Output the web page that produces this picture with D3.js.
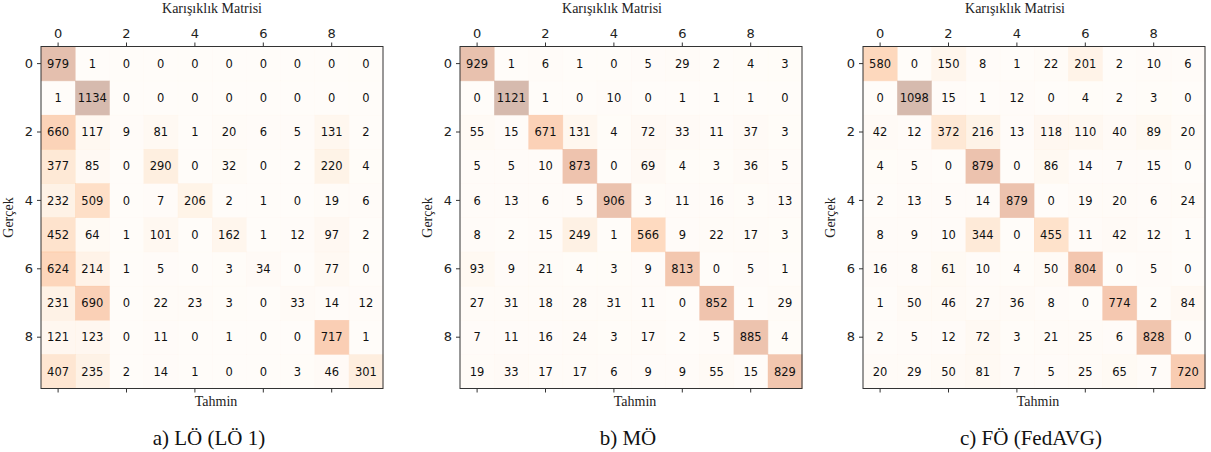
<!DOCTYPE html>
<html>
<head>
<meta charset="utf-8">
<script src="https://cdn.jsdelivr.net/npm/d3@7"></script>
<style>
  body { margin: 0; background: #fff; }
  svg { display: block; }
</style>
</head>
<body>
<svg id="chart" width="1211" height="452"></svg>
<script>
// sınıflar ve eksen etiketleri
const classes = [0, 1, 2, 3, 4, 5, 6, 7, 8, 9]
const tickLabels = [0, 2, 4, 6, 8]

// a) LÖ (LÖ 1)
const matrixLO = [
  [979, 1, 0, 0, 0, 0, 0, 0, 0, 0],
  [1, 1134, 0, 0, 0, 0, 0, 0, 0, 0],
  [660, 117, 9, 81, 1, 20, 6, 5, 131, 2],
  [377, 85, 0, 290, 0, 32, 0, 2, 220, 4],
  [232, 509, 0, 7, 206, 2, 1, 0, 19, 6],
  [452, 64, 1, 101, 0, 162, 1, 12, 97, 2],
  [624, 214, 1, 5, 0, 3, 34, 0, 77, 0],
  [231, 690, 0, 22, 23, 3, 0, 33, 14, 12],
  [121, 123, 0, 11, 0, 1, 0, 0, 717, 1],
  [407, 235, 2, 14, 1, 0, 0, 3, 46, 301],
]

// b) MÖ
const matrixMO = [
  [929, 1, 6, 1, 0, 5, 29, 2, 4, 3],
  [0, 1121, 1, 0, 10, 0, 1, 1, 1, 0],
  [55, 15, 671, 131, 4, 72, 33, 11, 37, 3],
  [5, 5, 10, 873, 0, 69, 4, 3, 36, 5],
  [6, 13, 6, 5, 906, 3, 11, 16, 3, 13],
  [8, 2, 15, 249, 1, 566, 9, 22, 17, 3],
  [93, 9, 21, 4, 3, 9, 813, 0, 5, 1],
  [27, 31, 18, 28, 31, 11, 0, 852, 1, 29],
  [7, 11, 16, 24, 3, 17, 2, 5, 885, 4],
  [19, 33, 17, 17, 6, 9, 9, 55, 15, 829],
]

// c) FÖ (FedAVG)
const matrixFO = [
  [580, 0, 150, 8, 1, 22, 201, 2, 10, 6],
  [0, 1098, 15, 1, 12, 0, 4, 2, 3, 0],
  [42, 12, 372, 216, 13, 118, 110, 40, 89, 20],
  [4, 5, 0, 879, 0, 86, 14, 7, 15, 0],
  [2, 13, 5, 14, 879, 0, 19, 20, 6, 24],
  [8, 9, 10, 344, 0, 455, 11, 42, 12, 1],
  [16, 8, 61, 10, 4, 50, 804, 0, 5, 0],
  [1, 50, 46, 27, 36, 8, 0, 774, 2, 84],
  [2, 5, 12, 72, 3, 21, 25, 6, 828, 0],
  [20, 29, 50, 81, 7, 5, 25, 65, 7, 720],
]

const captions = ['a) LÖ (LÖ 1)', 'b) MÖ', 'c) FÖ (FedAVG)']
const matrices = [matrixLO, matrixMO, matrixFO]

// yerleşim
const panels = [
  { left: 41, titleX: 212 },
  { left: 460, titleX: 612 },
  { left: 863, titleX: 1015 },
]
const size = 342
const topY = 46.5
const serif = '"Liberation Serif", "Times New Roman", serif'
const sans = '"DejaVu Sans", sans-serif'

const svg = d3.select('#chart')

panels.forEach((p, k) => {
  const data = matrices[k]
  const max = d3.max(data.flat())
  const x = d3.scaleBand().domain(classes).range([0, size])
  const y = d3.scaleBand().domain(classes).range([0, size])
  const color = d3.scaleSequential(d3.interpolateOranges).domain([0, max])

  const g = svg.append('g').attr('transform', `translate(${p.left},${topY})`)

  // hücreler
  const cells = data.flatMap((row, i) => row.map((v, j) => ({ i, j, v })))
  g.selectAll('rect.cell')
    .data(cells)
    .enter()
    .append('rect')
    .attr('class', 'cell')
    .attr('x', d => x(d.j))
    .attr('y', d => y(d.i))
    .attr('width', x.bandwidth() + 0.5)
    .attr('height', y.bandwidth() + 0.5)
    .attr('fill', d => color(d.v))
    .attr('fill-opacity', 0.32)

  g.selectAll('text.val')
    .data(cells)
    .enter()
    .append('text')
    .attr('class', 'val')
    .attr('x', d => x(d.j) + x.bandwidth() / 2)
    .attr('y', d => y(d.i) + y.bandwidth() / 2)
    .attr('dy', '0.36em')
    .attr('text-anchor', 'middle')
    .attr('font-family', sans)
    .attr('font-size', '11.5px')
    .attr('fill', '#111')
    .text(d => d.v)

  // eksenler
  const axTop = g.append('g')
    .call(d3.axisTop(x).tickValues(tickLabels).tickSize(4).tickPadding(5))
  const axBottom = g.append('g')
    .attr('transform', `translate(0,${size})`)
    .call(d3.axisBottom(x).tickValues(tickLabels).tickSize(4).tickFormat(''))
  const axLeft = g.append('g')
    .call(d3.axisLeft(y).tickValues(tickLabels).tickSize(4).tickPadding(4))

  ;[axTop, axBottom, axLeft].forEach(a => {
    a.attr('font-size', null).attr('font-family', null)
    a.select('.domain').remove()
    a.selectAll('line').attr('stroke', '#333')
    a.selectAll('text')
      .style('font-family', sans)
      .style('font-size', '13px')
      .attr('fill', '#222')
  })

  // çerçeve
  g.append('rect')
    .attr('width', size)
    .attr('height', size)
    .attr('fill', 'none')
    .attr('stroke', '#333')
    .attr('stroke-width', 1)

  // başlık ve etiketler
  svg.append('text')
    .attr('x', p.titleX)
    .attr('y', 13)
    .attr('text-anchor', 'middle')
    .attr('font-family', serif)
    .attr('font-size', '14px')
    .attr('fill', '#222')
    .text('Karışıklık Matrisi')

  svg.append('text')
    .attr('x', p.left + size / 2 + 4)
    .attr('y', 406)
    .attr('text-anchor', 'middle')
    .attr('font-family', serif)
    .attr('font-size', '14px')
    .attr('fill', '#222')
    .text('Tahmin')

  svg.append('text')
    .attr('transform', `translate(${p.left - 28},${topY + size / 2}) rotate(-90)`)
    .attr('text-anchor', 'middle')
    .attr('font-family', serif)
    .attr('font-size', '14px')
    .attr('fill', '#222')
    .text('Gerçek')

  svg.append('text')
    .attr('x', p.left + size / 2 - 3)
    .attr('y', 445)
    .attr('text-anchor', 'middle')
    .attr('font-family', serif)
    .attr('font-size', '21px')
    .attr('fill', '#111')
    .text(captions[k])
})
</script>
</body>
</html>
